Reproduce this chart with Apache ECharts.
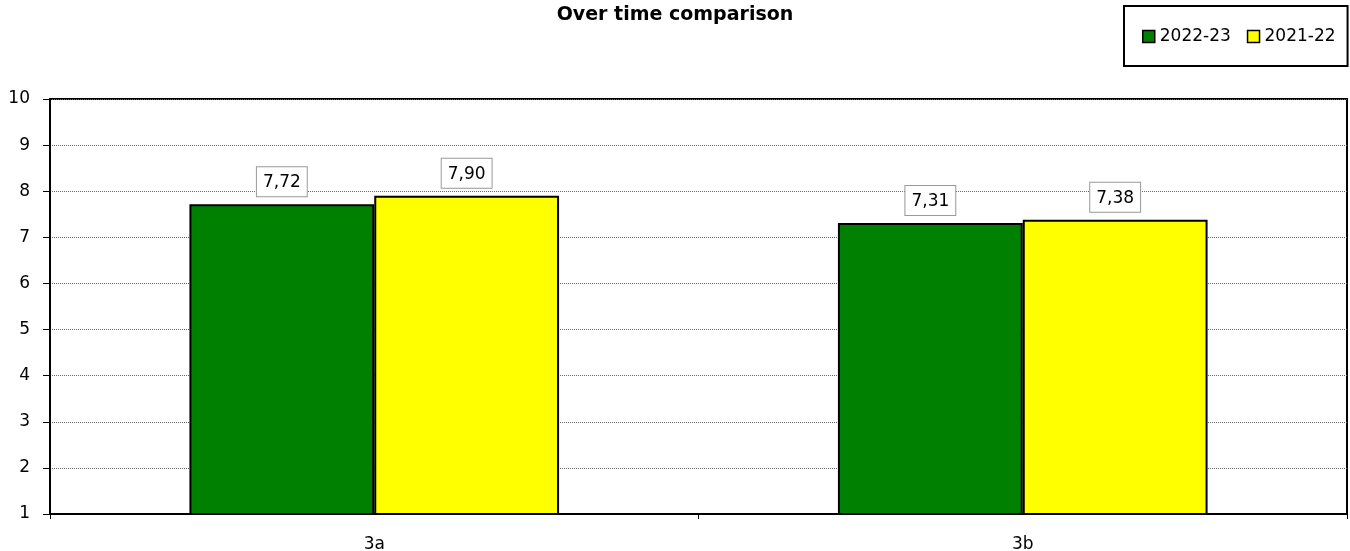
<!DOCTYPE html>
<html><head><meta charset="utf-8">
<script src="https://cdn.jsdelivr.net/npm/echarts@6/dist/echarts.min.js"></script>
<style>html,body{margin:0;padding:0;background:#fff}#c{width:1350px;height:551px}</style>
</head><body><div id="c"></div>
<script>
const categories = ['3a', '3b'];
const seriesNames = ['2022-23', '2021-22'];
const values2223 = [7.72, 7.31];
const values2122 = [7.90, 7.38];
const colors = ['#008000', '#FFFF00'];
const font = '"DejaVu Sans", Verdana, sans-serif';

const chart = echarts.init(document.getElementById('c'), null, {renderer: 'canvas'});
const mkSeries = (name, data, color) => ({
  name, type: 'bar', data, barGap: '0%', barCategoryGap: '43%',
  itemStyle: {color, borderColor: '#000', borderWidth: 2},
  label: {
    show: true, position: 'top', distance: 8,
    formatter: p => p.value.toFixed(2).replace('.', ','),
    color: '#000', fontFamily: font, fontSize: 17,
    backgroundColor: '#fff', borderColor: '#999', borderWidth: 1,
    padding: [7, 6, 5, 6]
  }
});
chart.setOption({
  animation: false,
  title: {text: 'Over time comparison', left: 'center', top: 1,
    textStyle: {fontFamily: font, fontWeight: 'bold', fontSize: 19, color: '#000'}},
  legend: {
    data: seriesNames, left: 1124, top: 6,
    padding: [22, 12, 21, 18],
    borderColor: '#000', borderWidth: 2,
    itemWidth: 12, itemHeight: 12, itemGap: 16,
    textStyle: {fontFamily: font, fontSize: 17, color: '#000'},
    icon: 'rect',
    itemStyle: {borderColor: '#000', borderWidth: 1.5}
  },
  grid: {left: 50, right: 3, top: 99, bottom: 37, show: true, outerBoundsMode: 'none',
    containLabel: false,
    borderColor: '#000', borderWidth: 2, backgroundColor: 'transparent'},
  xAxis: {
    type: 'category', data: categories,
    axisLine: {lineStyle: {color: '#000', width: 2}},
    axisTick: {show: true, length: 5, lineStyle: {color: '#000', width: 1}},
    axisLabel: {fontFamily: font, fontSize: 17, color: '#000', margin: 22}
  },
  yAxis: {
    type: 'value', min: 1, max: 10, interval: 1,
    axisLine: {show: true, lineStyle: {color: '#000', width: 2}},
    axisTick: {show: true, length: 7, lineStyle: {color: '#000', width: 1}},
    axisLabel: {fontFamily: font, fontSize: 17, color: '#000', margin: 20},
    splitLine: {show: true, lineStyle: {color: '#666', width: 1, type: [1, 1]}}
  },
  series: [
    mkSeries(seriesNames[0], values2223, colors[0]),
    mkSeries(seriesNames[1], values2122, colors[1])
  ]
});
</script></body></html>
